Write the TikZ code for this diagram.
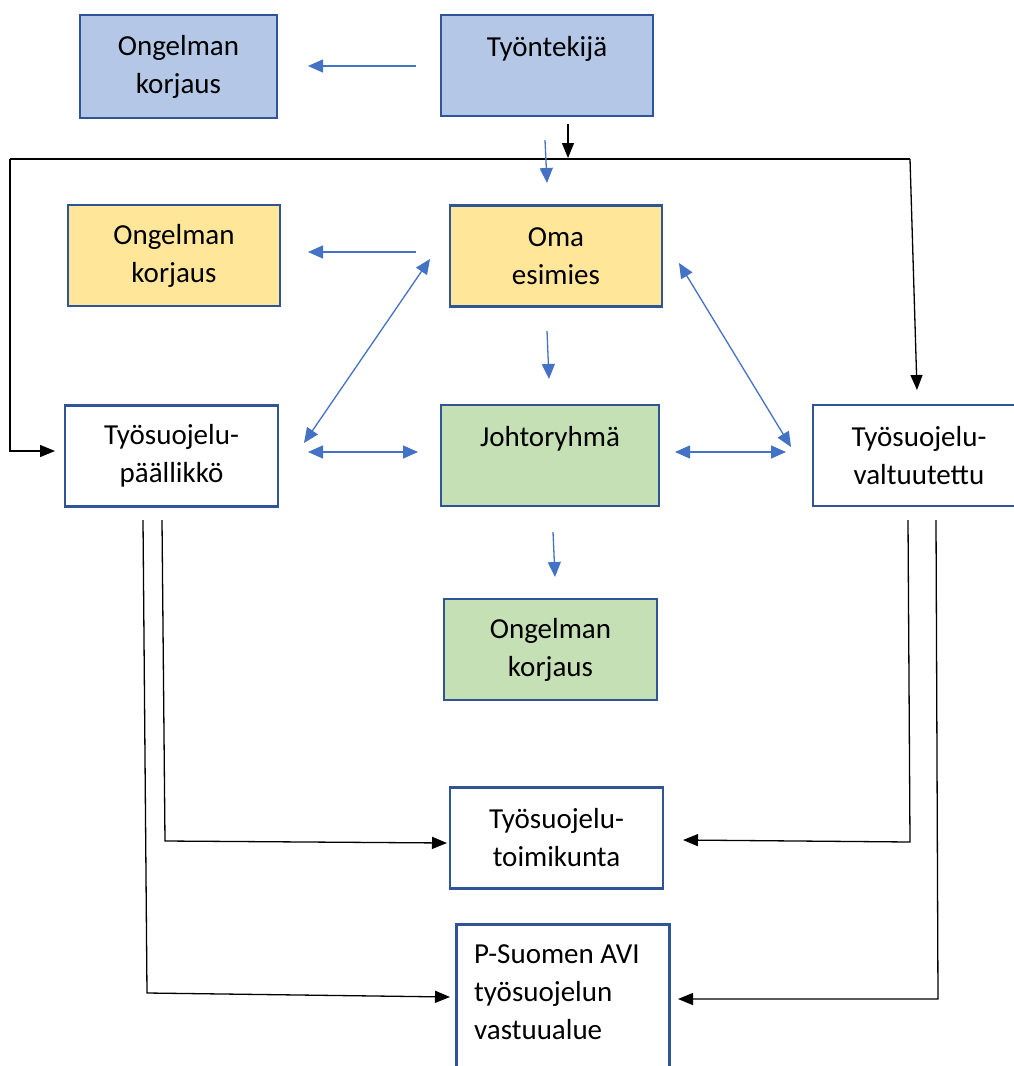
\documentclass[tikz,border=0pt]{standalone}
\usepackage{fontspec}
\setmainfont{Carlito}
\usetikzlibrary{arrows.meta}
\definecolor{bordc}{HTML}{2F5597}
\definecolor{arrc}{HTML}{4472C4}
\definecolor{fblue}{HTML}{B4C7E7}
\definecolor{fyel}{HTML}{FFE699}
\definecolor{fgrn}{HTML}{C5E0B4}
\begin{document}
\begin{tikzpicture}[x=1pt,y=-1pt,
  box/.style={draw=bordc, line width=2.6pt, minimum width=212pt, minimum height=101pt,
    align=center, font=\fontsize{29}{38}\selectfont, inner sep=0pt},
  barr/.style={draw=arrc, line width=1.3pt, -{Triangle[length=15pt,width=13pt]}},
  bdbl/.style={draw=arrc, line width=1.3pt, {Triangle[length=15pt,width=13pt]}-{Triangle[length=15pt,width=13pt]}},
  karr/.style={draw=black, line width=1.3pt, -{Triangle[length=15pt,width=12pt]}},
  kline/.style={draw=black, line width=1.3pt}]
\clip (0,0) rectangle (1014,1066);
\fill[white] (0,0) rectangle (1014,1066);

\node[box, fill=fblue, minimum width=197pt, minimum height=103pt] (ok1) at (178.5,66.5) {Ongelman\\korjaus};
\node[box, fill=fblue] (tyo) at (547,65.5) {Työntekijä\\\mbox{}};
\node[box, fill=fyel] (ok2) at (174,255.5) {Ongelman\\korjaus};
\node[box, fill=fyel] (oma) at (556,256) {Oma\\esimies};
\node[box, fill=white, minimum width=213pt] (tsp) at (171.5,456) {Työsuojelu-\\päällikkö};
\node[box, fill=fgrn, minimum width=218pt] (joh) at (550,455.5) {Johtoryhmä\\\mbox{}};
\node[box, fill=white] (tsv) at (919,455.5) {Työsuojelu-\\valtuutettu};
\node[box, fill=fgrn, minimum width=213pt] (ok3) at (550.5,649.5) {Ongelman\\korjaus};
\node[box, fill=white, minimum width=213pt] (tmk) at (556.5,838) {Työsuojelu-\\toimikunta};
\node[box, fill=white, minimum width=213pt, minimum height=200pt, anchor=north west,
  label={[anchor=north west, align=left, font=\fontsize{29}{38}\selectfont, inner sep=0pt, xshift=19pt, yshift=-21pt]north west:P-Suomen AVI\\työsuojelun\\vastuualue}] (avi) at (455,923) {};

% coordinates
\coordinate (a1s) at (416,66);  \coordinate (a1e) at (308,66);
\coordinate (k1s) at (568,124); \coordinate (k1e) at (568,158);
\coordinate (hl) at (10,159);   \coordinate (hr) at (910,159);
\coordinate (tspin) at (55,451); \coordinate (tspc) at (10,451);
\coordinate (tsvin) at (917,390);
\coordinate (a2s) at (545,140); \coordinate (a2e) at (547,183);
\coordinate (a3s) at (416,252); \coordinate (a3e) at (308,252);
\coordinate (d1a) at (304,443); \coordinate (d1b) at (430,259);
\coordinate (a4s) at (547,331); \coordinate (a4e) at (549,379);
\coordinate (d2a) at (308,452); \coordinate (d2b) at (418,452);
\coordinate (d3a) at (675,452); \coordinate (d3b) at (786,452);
\coordinate (d4a) at (679,263); \coordinate (d4b) at (791,447);
\coordinate (a5s) at (553,532); \coordinate (a5e) at (555,577);

\draw[barr] (a1s) -- (a1e);
\draw[karr] (k1s) -- (k1e);
\draw[kline] (hl) -- (hr);
\draw[karr] (hl) -- (tspc) -- (tspin);
\draw[karr] (hr) -- (tsvin);
\draw[barr] (a2s) -- (a2e);
\draw[barr] (a3s) -- (a3e);
\draw[bdbl] (d1a) -- (d1b);
\draw[barr] (a4s) -- (a4e);
\draw[bdbl] (d2a) -- (d2b);
\draw[bdbl] (d3a) -- (d3b);
\draw[bdbl] (d4a) -- (d4b);
\draw[barr] (a5s) -- (a5e);

\coordinate (p1) at (162,520); \coordinate (p2) at (165,841); \coordinate (p3) at (447,843);
\coordinate (q1) at (143,520); \coordinate (q2) at (147,993); \coordinate (q3) at (450,997);
\coordinate (r1) at (908,520); \coordinate (r2) at (910,842); \coordinate (r3) at (683,840);
\coordinate (s1) at (936,520); \coordinate (s2) at (938,999); \coordinate (s3) at (678,999);
\draw[karr] (p1) -- (p2) -- (p3);
\draw[karr] (q1) -- (q2) -- (q3);
\draw[karr] (r1) -- (r2) -- (r3);
\draw[karr] (s1) -- (s2) -- (s3);
\end{tikzpicture}
\end{document}
